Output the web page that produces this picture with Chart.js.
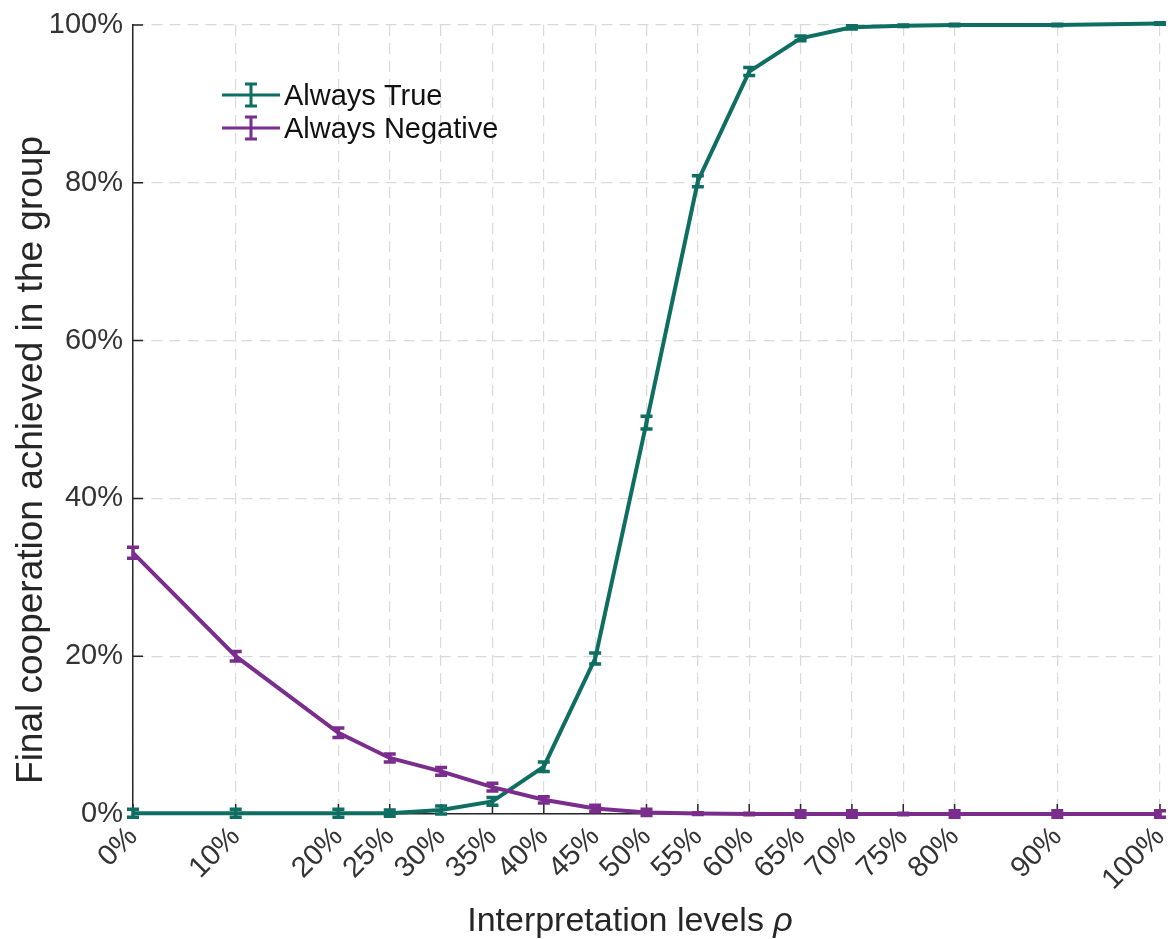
<!DOCTYPE html>
<html lang="en">
<head>
<meta charset="UTF-8">
<title>Final cooperation vs interpretation levels</title>
<script src="https://cdn.jsdelivr.net/npm/chart.js"></script>
<style>
  body { margin: 0; padding: 0; background: #fff; }
  #wrap { width: 1173px; height: 939px; }
</style>
</head>
<body>
<div id="wrap"><canvas id="coopChart" width="1173" height="939"></canvas></div>
<script>
// interpretation levels (x, in %)
const levels = [0, 10, 20, 25, 30, 35, 40, 45, 50, 55, 60, 65, 70, 75, 80, 90, 100];
// final cooperation (%) and error half-widths
const alwaysTrue     = [0.1, 0.1, 0.1, 0.1, 0.5, 1.6, 6.0, 19.7, 49.6, 80.2, 94.1, 98.3, 99.7, 99.9, 100, 100, 100.2];
const alwaysTrueErr  = [0.5, 0.5, 0.5, 0.4, 0.5, 0.5, 0.6, 0.7, 0.8, 0.7, 0.5, 0.3, 0.2, 0.1, 0.1, 0.1, 0.1];
const alwaysNegative = [33.1, 20.0, 10.3, 7.1, 5.4, 3.4, 1.8, 0.7, 0.2, 0.05, 0, 0, 0, 0, 0, 0, 0];
const alwaysNegErr   = [0.7, 0.6, 0.6, 0.5, 0.5, 0.5, 0.4, 0.4, 0.4, 0.1, 0.1, 0.4, 0.4, 0.1, 0.4, 0.4, 0.4];
const yTicks = [0, 20, 40, 60, 80, 100];

const TEAL = '#0f6e62';
const PURPLE = '#7b2d8e';
const AXIS = '#262626';
const FONT = '"Liberation Sans", Arial, sans-serif';

function points(ys) {
  return levels.map((x, i) => ({ x: x, y: ys[i] }));
}

// vertical error bars with caps, drawn on the scales
const errorBars = {
  id: 'errorBars',
  afterDatasetsDraw(chart) {
    const { ctx, scales: { x, y } } = chart;
    const sets = [[alwaysNegative, alwaysNegErr, PURPLE], [alwaysTrue, alwaysTrueErr, TEAL]];
    ctx.save();
    ctx.lineWidth = 3.5;
    sets.forEach(([vals, errs, color]) => {
      ctx.strokeStyle = color;
      vals.forEach((v, i) => {
        const px = x.getPixelForValue(levels[i]);
        const top = y.getPixelForValue(v + errs[i]);
        const bot = y.getPixelForValue(v - errs[i]);
        ctx.beginPath();
        ctx.moveTo(px, top); ctx.lineTo(px, bot);
        ctx.moveTo(px - 6, top); ctx.lineTo(px + 6, top);
        ctx.moveTo(px - 6, bot); ctx.lineTo(px + 6, bot);
        ctx.stroke();
      });
    });
    ctx.restore();
  }
};

// inward tick marks, axis titles and the legend box
const decorations = {
  id: 'decorations',
  beforeDatasetsDraw(chart) {
    const { ctx, chartArea: a, scales: { x, y } } = chart;
    ctx.save();
    ctx.strokeStyle = AXIS;
    ctx.lineWidth = 1.5;
    ctx.beginPath();
    levels.forEach(v => {
      const px = x.getPixelForValue(v);
      ctx.moveTo(px, a.bottom); ctx.lineTo(px, a.bottom - 10);
    });
    yTicks.forEach(v => {
      const py = y.getPixelForValue(v);
      ctx.moveTo(a.left, py); ctx.lineTo(a.left + 10, py);
    });
    ctx.stroke();
    ctx.restore();
  },
  afterDraw(chart) {
    const { ctx } = chart;
    ctx.save();
    ctx.fillStyle = AXIS;
    ctx.textBaseline = 'alphabetic';

    // x title with italic rho
    const plain = 'Interpretation levels ';
    ctx.font = '34px ' + FONT;
    const w1 = ctx.measureText(plain).width;
    ctx.font = 'italic 34px ' + FONT;
    const w2 = ctx.measureText('ρ').width;
    const sx = 630 - (w1 + w2) / 2;
    ctx.font = '34px ' + FONT;
    ctx.textAlign = 'left';
    ctx.fillText(plain, sx, 931);
    ctx.font = 'italic 34px ' + FONT;
    ctx.fillText('ρ', sx + w1, 931);

    // y title
    ctx.font = '37px ' + FONT;
    ctx.translate(42, 460);
    ctx.rotate(-Math.PI / 2);
    ctx.textAlign = 'center';
    ctx.fillText('Final cooperation achieved in the group', 0, 0);
    ctx.restore();

    // legend
    const entries = [['Always True', TEAL, 95], ['Always Negative', PURPLE, 128]];
    ctx.save();
    ctx.font = '29px ' + FONT;
    ctx.textBaseline = 'middle';
    ctx.textAlign = 'left';
    entries.forEach(([label, color, ly]) => {
      ctx.strokeStyle = color;
      ctx.lineWidth = 3;
      ctx.beginPath();
      ctx.moveTo(222, ly); ctx.lineTo(280, ly);
      ctx.moveTo(251, ly - 11); ctx.lineTo(251, ly + 11);
      ctx.moveTo(245, ly - 11); ctx.lineTo(257, ly - 11);
      ctx.moveTo(245, ly + 11); ctx.lineTo(257, ly + 11);
      ctx.stroke();
      ctx.fillStyle = '#111';
      ctx.fillText(label, 284, ly + 2);
    });
    ctx.restore();
  }
};

new Chart(document.getElementById('coopChart'), {
  type: 'line',
  data: {
    datasets: [
      {
        label: 'Always Negative',
        data: points(alwaysNegative),
        borderColor: PURPLE,
        borderWidth: 4,
        pointRadius: 0,
        tension: 0,
        clip: false
      },
      {
        label: 'Always True',
        data: points(alwaysTrue),
        borderColor: TEAL,
        borderWidth: 4,
        pointRadius: 0,
        tension: 0,
        clip: false
      }
    ]
  },
  options: {
    responsive: false,
    animation: false,
    layout: { padding: { top: 25, right: 13, left: 0, bottom: 0 } },
    plugins: {
      legend: { display: false },
      tooltip: { enabled: false }
    },
    scales: {
      x: {
        type: 'linear',
        min: 0,
        max: 100,
        afterBuildTicks: s => { s.ticks = levels.map(v => ({ value: v })); },
        afterFit: s => { s.height = 125; s.paddingLeft = 0; s.paddingRight = 0; },
        grid: { color: '#d9d9d9', lineWidth: 1.2, drawTicks: false },
        border: { display: true, color: AXIS, width: 1.5, dash: [11, 7] },
        ticks: {
          callback: v => v + '%',
          font: { family: FONT, size: 29 },
          color: '#333',
          padding: 6,
          minRotation: 45,
          maxRotation: 45,
          autoSkip: false
        }
      },
      y: {
        min: 0,
        max: 100,
        afterBuildTicks: s => { s.ticks = yTicks.map(v => ({ value: v })); },
        afterFit: s => { s.width = 133; s.paddingTop = 0; s.paddingBottom = 0; },
        grid: { color: '#d9d9d9', lineWidth: 1.2, drawTicks: false },
        border: { display: true, color: AXIS, width: 1.5, dash: [11, 7] },
        ticks: {
          callback: v => v + '%',
          font: { family: FONT, size: 29 },
          color: '#333',
          padding: 10
        }
      }
    }
  },
  plugins: [errorBars, decorations]
});
</script>
</body>
</html>
